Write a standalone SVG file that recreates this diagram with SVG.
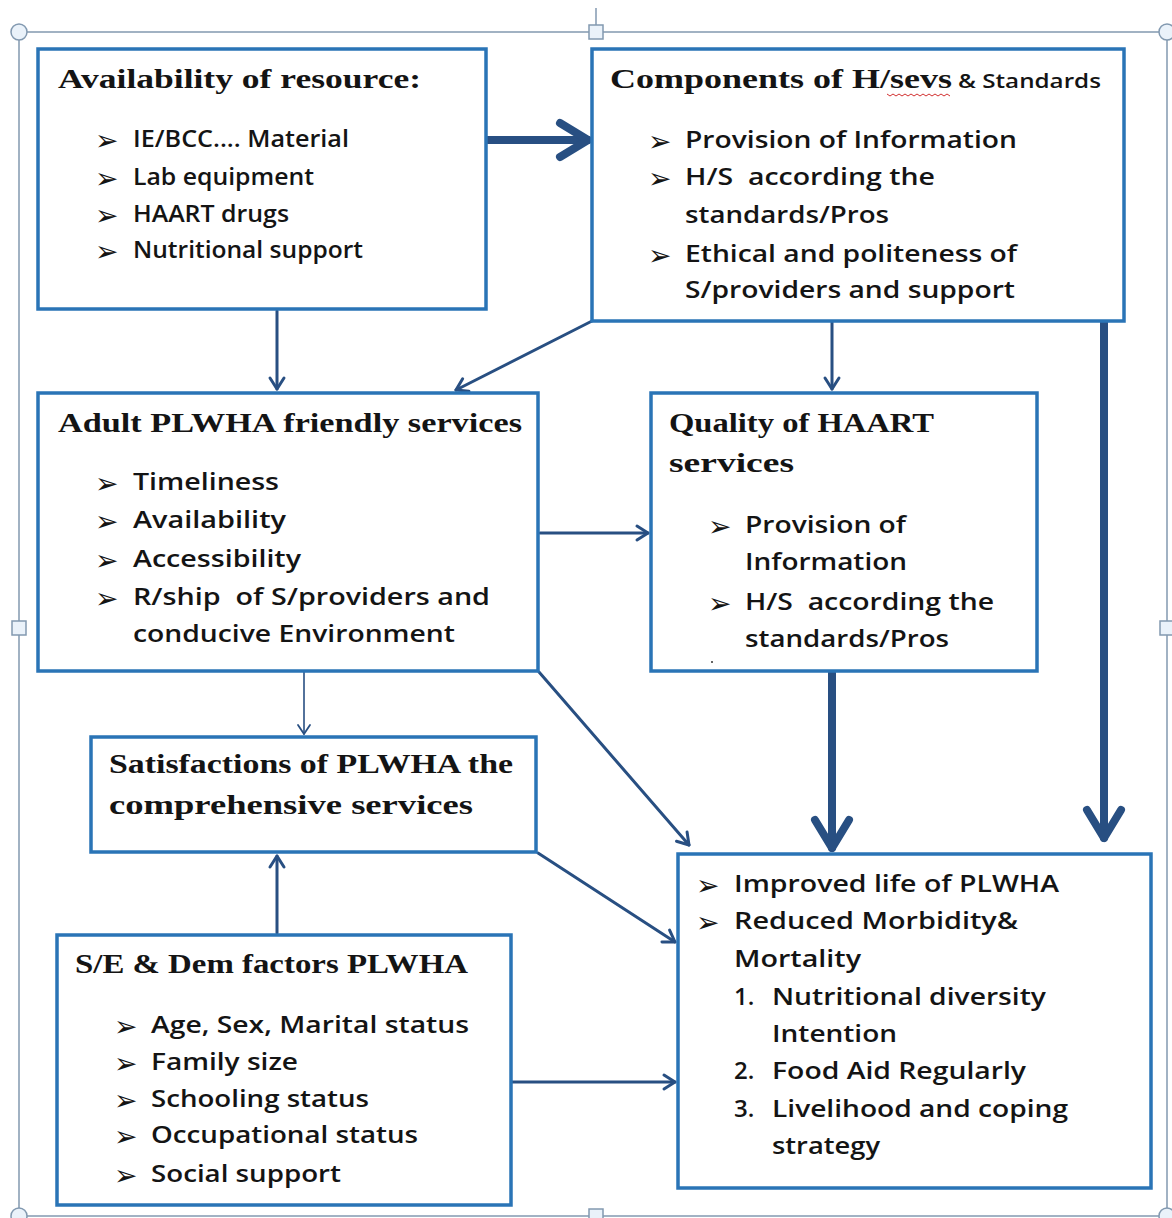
<svg xmlns="http://www.w3.org/2000/svg" width="1172" height="1218" viewBox="0 0 1172 1218">
<style>
.box{fill:#fff;stroke:#2a74b6;stroke-width:3.5}
.t{font-family:"Liberation Serif",serif;font-weight:bold;font-size:27px;fill:#141414}
.b{font-family:"Open Sans","Liberation Sans",sans-serif;font-weight:600;font-size:24px;fill:#141414}
.s{font-family:"Open Sans","Liberation Sans",sans-serif;font-weight:600;font-size:20px;fill:#141414}
.bl{font-family:"DejaVu Sans",sans-serif;font-size:28px;fill:#141414}
.c{fill:none;stroke:#284f82;stroke-linecap:round;stroke-linejoin:round}
.thin{stroke-width:3;marker-end:url(#ah)}
.hair{stroke-width:1.6;marker-end:url(#ahs)}
.thick{stroke-width:8;marker-end:url(#ahb)}
.fr{fill:none;stroke:#8299b0;stroke-width:1.5}
.hd{fill:#eaf2fa;stroke:#8299b0;stroke-width:1.5}
</style>
<defs>
<marker id="ah" markerUnits="userSpaceOnUse" markerWidth="30" markerHeight="30" refX="0" refY="0" orient="auto" overflow="visible">
<path d="M-11,-7 L0,0 L-11,7" fill="none" stroke="#284f82" stroke-width="3" stroke-linecap="round" stroke-linejoin="round"/>
</marker>
<marker id="ahs" markerUnits="userSpaceOnUse" markerWidth="30" markerHeight="30" refX="0" refY="0" orient="auto" overflow="visible">
<path d="M-9,-6 L0,0 L-9,6" fill="none" stroke="#284f82" stroke-width="1.8" stroke-linecap="round" stroke-linejoin="round"/>
</marker>
<marker id="ahb" markerUnits="userSpaceOnUse" markerWidth="60" markerHeight="60" refX="0" refY="0" orient="auto" overflow="visible">
<path d="M-28,-17 L0,0 L-28,17" fill="none" stroke="#284f82" stroke-width="8" stroke-linecap="round" stroke-linejoin="round"/>
</marker>
</defs>
<rect width="1172" height="1218" fill="#fff"/>
<g id="frame">
<rect class="fr" x="19" y="32" width="1148" height="1184"/>
<line class="fr" x1="596" y1="8" x2="596" y2="26"/>
<circle class="hd" cx="19" cy="32" r="8"/>
<rect class="hd" x="589" y="25" width="14" height="14"/>
<circle class="hd" cx="1167" cy="32" r="8"/>
<rect class="hd" x="12" y="621" width="14" height="14"/>
<rect class="hd" x="1160" y="621" width="14" height="14"/>
<circle class="hd" cx="19" cy="1216" r="8"/>
<rect class="hd" x="589" y="1209" width="14" height="14"/>
<circle class="hd" cx="1167" cy="1216" r="8"/>
</g>
<g id="connectors">
<line class="c thick" x1="488" y1="140" x2="588" y2="140"/>
<line class="c thin" x1="277" y1="311" x2="277" y2="389"/>
<line class="c thin" x1="592" y1="321" x2="456" y2="390"/>
<line class="c thin" x1="832" y1="322" x2="832" y2="389"/>
<line class="c thick" x1="1104" y1="322" x2="1104" y2="838"/>
<line class="c thick" x1="832" y1="673" x2="832" y2="848"/>
<line class="c thin" x1="540" y1="533" x2="648" y2="533"/>
<line class="c hair" x1="304" y1="672" x2="304" y2="734"/>
<line class="c thin" x1="539" y1="672" x2="689" y2="845"/>
<line class="c thin" x1="538" y1="853" x2="675" y2="942"/>
<line class="c thin" x1="277" y1="933" x2="277" y2="856"/>
<line class="c thin" x1="507" y1="1082" x2="675" y2="1082"/>
</g>
<g id="n1">
<rect class="box" x="38" y="49" width="448" height="260"/>
<text class="t" x="58" y="88" textLength="363" lengthAdjust="spacingAndGlyphs">Availability of resource:</text>
<text class="bl" x="95" y="150">➢</text><text class="b" x="133" y="147" textLength="216" lengthAdjust="spacingAndGlyphs">IE/BCC.... Material</text>
<text class="bl" x="95" y="188">➢</text><text class="b" x="133" y="185" textLength="181" lengthAdjust="spacingAndGlyphs">Lab equipment</text>
<text class="bl" x="95" y="225">➢</text><text class="b" x="133" y="222" textLength="156" lengthAdjust="spacingAndGlyphs">HAART drugs</text>
<text class="bl" x="95" y="261">➢</text><text class="b" x="133" y="258" textLength="230" lengthAdjust="spacingAndGlyphs">Nutritional support</text>
</g>
<g id="n2">
<rect class="box" x="592" y="49" width="532" height="272"/>
<text class="t" x="610" y="88" textLength="342" lengthAdjust="spacingAndGlyphs">Components of H/sevs</text>
<text class="s" x="958" y="88" textLength="143" lengthAdjust="spacingAndGlyphs">&amp; Standards</text>
<path d="M887,94 l3,2 l3,-2 l3,2 l3,-2 l3,2 l3,-2 l3,2 l3,-2 l3,2 l3,-2 l3,2 l3,-2 l3,2 l3,-2 l3,2 l3,-2 l3,2 l3,-2 l3,2 l3,-2 l3,2" fill="none" stroke="#d23030" stroke-width="1"/>
<text class="bl" x="648" y="151">➢</text><text class="b" x="685" y="148" textLength="332" lengthAdjust="spacingAndGlyphs">Provision of Information</text>
<text class="bl" x="648" y="188">➢</text><text class="b" x="685" y="185" textLength="250" lengthAdjust="spacingAndGlyphs" xml:space="preserve">H/S  according the</text>
<text class="b" x="685" y="223" textLength="204" lengthAdjust="spacingAndGlyphs">standards/Pros</text>
<text class="bl" x="648" y="265">➢</text><text class="b" x="685" y="262" textLength="332" lengthAdjust="spacingAndGlyphs">Ethical and politeness of</text>
<text class="b" x="685" y="298" textLength="330" lengthAdjust="spacingAndGlyphs">S/providers and support</text>
</g>
<g id="n3">
<rect class="box" x="38" y="393" width="500" height="278"/>
<text class="t" x="58" y="432" textLength="464" lengthAdjust="spacingAndGlyphs">Adult PLWHA friendly services</text>
<text class="bl" x="95" y="493">➢</text><text class="b" x="133" y="490" textLength="146" lengthAdjust="spacingAndGlyphs">Timeliness</text>
<text class="bl" x="95" y="531">➢</text><text class="b" x="133" y="528" textLength="153" lengthAdjust="spacingAndGlyphs">Availability</text>
<text class="bl" x="95" y="570">➢</text><text class="b" x="133" y="567" textLength="168" lengthAdjust="spacingAndGlyphs">Accessibility</text>
<text class="bl" x="95" y="608">➢</text><text class="b" x="133" y="605" textLength="357" lengthAdjust="spacingAndGlyphs" xml:space="preserve">R/ship  of S/providers and</text>
<text class="b" x="133" y="642" textLength="322" lengthAdjust="spacingAndGlyphs">conducive Environment</text>
</g>
<g id="n4">
<rect class="box" x="651" y="393" width="386" height="278"/>
<text class="t" x="669" y="432" textLength="265" lengthAdjust="spacingAndGlyphs">Quality of HAART</text>
<text class="t" x="669" y="472" textLength="125" lengthAdjust="spacingAndGlyphs">services</text>
<text class="bl" x="708" y="536">➢</text><text class="b" x="745" y="533" textLength="161" lengthAdjust="spacingAndGlyphs">Provision of</text>
<text class="b" x="745" y="570" textLength="162" lengthAdjust="spacingAndGlyphs">Information</text>
<text class="bl" x="708" y="613">➢</text><text class="b" x="745" y="610" textLength="249" lengthAdjust="spacingAndGlyphs" xml:space="preserve">H/S  according the</text>
<text class="b" x="745" y="647" textLength="204" lengthAdjust="spacingAndGlyphs">standards/Pros</text>
<circle cx="712" cy="662" r="1" fill="#333"/>
</g>
<g id="n5">
<rect class="box" x="91" y="737" width="445" height="115"/>
<text class="t" x="109" y="773" textLength="404" lengthAdjust="spacingAndGlyphs">Satisfactions of PLWHA the</text>
<text class="t" x="109" y="814" textLength="364" lengthAdjust="spacingAndGlyphs">comprehensive services</text>
</g>
<g id="n6">
<rect class="box" x="57" y="935" width="454" height="270"/>
<text class="t" x="75" y="973" textLength="393" lengthAdjust="spacingAndGlyphs">S/E &amp; Dem factors PLWHA</text>
<text class="bl" x="114" y="1036">➢</text><text class="b" x="151" y="1033" textLength="318" lengthAdjust="spacingAndGlyphs">Age, Sex, Marital status</text>
<text class="bl" x="114" y="1073">➢</text><text class="b" x="151" y="1070" textLength="147" lengthAdjust="spacingAndGlyphs">Family size</text>
<text class="bl" x="114" y="1110">➢</text><text class="b" x="151" y="1107" textLength="218" lengthAdjust="spacingAndGlyphs">Schooling status</text>
<text class="bl" x="114" y="1146">➢</text><text class="b" x="151" y="1143" textLength="267" lengthAdjust="spacingAndGlyphs">Occupational status</text>
<text class="bl" x="114" y="1185">➢</text><text class="b" x="151" y="1182" textLength="190" lengthAdjust="spacingAndGlyphs">Social support</text>
</g>
<g id="n7">
<rect class="box" x="678" y="854" width="473" height="334"/>
<text class="bl" x="696" y="895">➢</text><text class="b" x="734" y="892" textLength="325" lengthAdjust="spacingAndGlyphs">Improved life of PLWHA</text>
<text class="bl" x="696" y="932">➢</text><text class="b" x="734" y="929" textLength="284" lengthAdjust="spacingAndGlyphs">Reduced Morbidity&amp;</text>
<text class="b" x="734" y="967" textLength="127" lengthAdjust="spacingAndGlyphs">Mortality</text>
<text class="b" x="734" y="1005">1.</text><text class="b" x="772" y="1005" textLength="274" lengthAdjust="spacingAndGlyphs">Nutritional diversity</text>
<text class="b" x="772" y="1042" textLength="125" lengthAdjust="spacingAndGlyphs">Intention</text>
<text class="b" x="734" y="1079">2.</text><text class="b" x="772" y="1079" textLength="254" lengthAdjust="spacingAndGlyphs">Food Aid Regularly</text>
<text class="b" x="734" y="1117">3.</text><text class="b" x="772" y="1117" textLength="296" lengthAdjust="spacingAndGlyphs">Livelihood and coping</text>
<text class="b" x="772" y="1154" textLength="108" lengthAdjust="spacingAndGlyphs">strategy</text>
</g>
</svg>
